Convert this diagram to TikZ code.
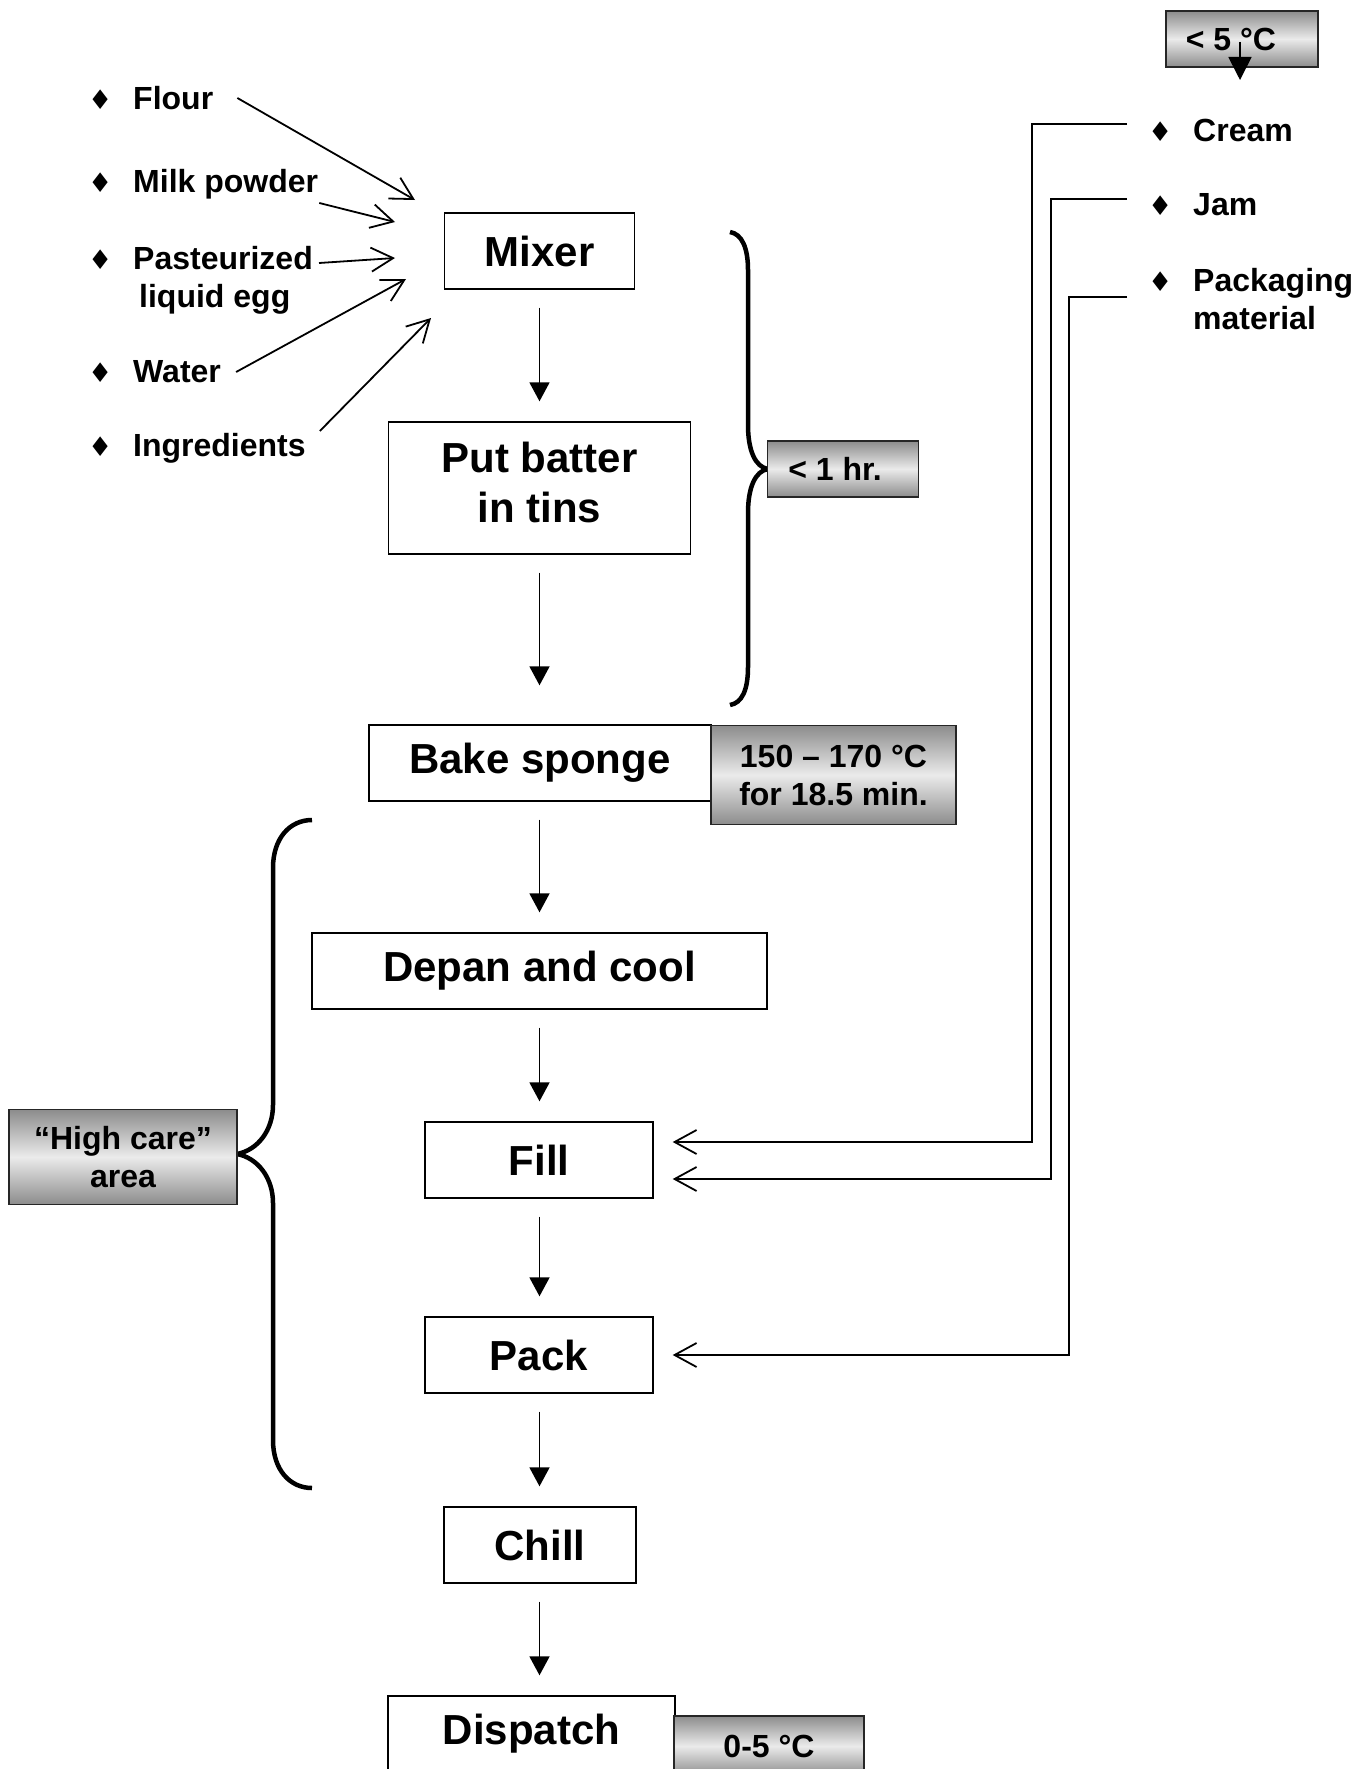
\documentclass[tikz,border=0pt]{standalone}
\usepackage{fontspec}
\setmainfont{Liberation Sans}
\newfontfamily\bulletfont{DejaVu Sans}
\usetikzlibrary{positioning,arrows.meta}
\newcommand{\stepfont}{\fontsize{42}{50}\selectfont\bfseries}
\newcommand{\notefont}{\fontsize{32}{38}\selectfont\bfseries}
\newcommand{\itemmark}{\makebox[45pt][l]{\bulletfont\fontsize{27}{27}\selectfont ♦}}
\tikzset{
  flowarrow/.style={-{Triangle[length=19pt, width=20pt]}, line width=1.8pt, shorten <=18pt, shorten >=20pt},
  feedarrow/.style={-{Straight Barb[length=22pt, width=24pt]}, line width=1.8pt},
  procbox/.style={draw, line width=1.4pt, fill=white, inner sep=0pt, minimum height=76pt, align=center, font=\stepfont},
  tempbox/.style={draw=black!85, line width=1.6pt, top color=black!45, bottom color=black!45, middle color=black!8, inner sep=0pt, align=center, font=\notefont},
  inlabel/.style={anchor=west, inner sep=0pt, align=left, font=\notefont},
  bracket/.style={line width=4.5pt}
}

\begin{document}
\begin{tikzpicture}[x=1pt, y=-1pt]
  \useasboundingbox (0,0) rectangle (1372,1769);
  \clip (0,0) rectangle (1372,1769);

  % process steps
  \node[procbox, minimum width=190pt] (mixer) at (539.5,251) {Mixer};
  \node[procbox, minimum width=302pt, minimum height=132pt, text depth=12pt] (tins) at (539.5,488) {Put batter\\in tins};
  \node[procbox, minimum width=342pt] (bake) at (540,763) {Bake sponge};
  \node[tempbox, minimum width=245pt, minimum height=99pt] (oven) at (833.5,775) {150 – 170 °C\\for 18.5 min.};
  \node[procbox, minimum width=455pt] (depan) at (539.5,971) {Depan and cool};
  \node[procbox, minimum width=228pt] (fill) at (539,1160) {Fill};
  \node[procbox, minimum width=228pt] (pack) at (539,1355) {Pack};
  \node[procbox, minimum width=192pt] (chill) at (540,1545) {Chill};
  \node[procbox, minimum width=287pt] (dispatch) at (531.5,1734) {Dispatch};
  \node[tempbox, minimum width=190pt, minimum height=60pt] (store) at (769,1746) {0-5 °C};

  \draw[flowarrow] (mixer.south) -- (mixer.south |- tins.north);
  \draw[flowarrow, shorten >=39pt] (tins.south) -- (tins.south |- bake.north);
  \draw[flowarrow] (tins.south |- bake.south) -- (tins.south |- depan.north);
  \draw[flowarrow] (tins.south |- depan.south) -- (tins.south |- fill.north);
  \draw[flowarrow] (tins.south |- fill.south) -- (tins.south |- pack.north);
  \draw[flowarrow] (tins.south |- pack.south) -- (tins.south |- chill.north);
  \draw[flowarrow] (tins.south |- chill.south) -- (tins.south |- dispatch.north);

  % ingredients into the mixer
  \node[inlabel] (flour) at (88,98) {\itemmark Flour};
  \node[inlabel] (milk) at (88,184) {\itemmark Milk powder};
  \node[inlabel] (egg) at (88,280) {\itemmark Pasteurized\\\hspace*{51pt}liquid egg};
  \node[inlabel] (water) at (88,372) {\itemmark Water};
  \node[inlabel] (other) at (88,448) {\itemmark Ingredients};

  \coordinate (mixin1) at (415,200);
  \coordinate (mixin2) at (395,222);
  \coordinate (mixin3) at (395,258);
  \coordinate (mixin4) at (406,279);
  \coordinate (mixin5) at (431,318);
  \draw[feedarrow] ([xshift=24pt]flour.east) -- (mixin1);
  \draw[feedarrow] ([xshift=1pt, yshift=-19pt]milk.east) -- (mixin2);
  \draw[feedarrow] ([xshift=6pt, yshift=17pt]egg.east) -- (mixin3);
  \draw[feedarrow] ([xshift=15pt]water.east) -- (mixin4);
  \draw[feedarrow] ([xshift=14pt, yshift=17pt]other.east) -- (mixin5);

  % time limit
  \draw[bracket] (730,232) .. controls (742,234) and (748,248) .. (748,270) -- (748,425)
    .. controls (748,450) and (755,467) .. (768,469) .. controls (755,471) and (748,488) .. (748,513)
    -- (748,667) .. controls (748,690) and (742,703) .. (730,705);
  \node[tempbox, minimum width=151pt, minimum height=56pt] (onehour) at (843,469) {< 1 hr.\hspace*{16pt}};

  % high care area
  \draw[bracket] (312,820) .. controls (290,820) and (273,838) .. (273,868) -- (273,1105)
    .. controls (273,1130) and (258,1150) .. (237,1154) .. controls (258,1158) and (273,1178) .. (273,1203)
    -- (273,1440) .. controls (273,1470) and (290,1488) .. (312,1488);
  \node[tempbox, minimum width=228pt, minimum height=95pt] (highcare) at (123,1157) {“High care”\\area};

  % fillings and packaging
  \node[tempbox, minimum width=152pt, minimum height=56pt] (chilled) at (1242,39) {< 5 °C\hspace*{22pt}};
  \coordinate (creamtop) at (1240,80);
  \draw[-{Triangle[length=23pt, width=23pt]}, line width=1.8pt] ([xshift=-2pt, yshift=-3pt]chilled.center) -- (creamtop);

  \node[inlabel] (cream) at (1148,130) {\itemmark Cream};
  \node[inlabel] (jam) at (1148,205) {\itemmark Jam};
  \node[inlabel] (packmat) at (1148,299.5) {\itemmark Packaging\\\hspace*{45pt}material};

  \coordinate (fillcream) at ([xshift=19pt, yshift=18pt]fill.east);
  \coordinate (filljam) at ([xshift=19pt, yshift=-19pt]fill.east);
  \coordinate (packin) at ([xshift=19pt]pack.east);
  \draw[feedarrow] ([xshift=-21pt, yshift=6pt]cream.west) -- ++(-95,0) |- (fillcream);
  \draw[feedarrow] ([xshift=-21pt, yshift=6pt]jam.west) -- ++(-76,0) |- (filljam);
  \draw[feedarrow] ([xshift=-21pt, yshift=2.5pt]packmat.west) -- ++(-58,0) |- (packin);
\end{tikzpicture}
\end{document}
